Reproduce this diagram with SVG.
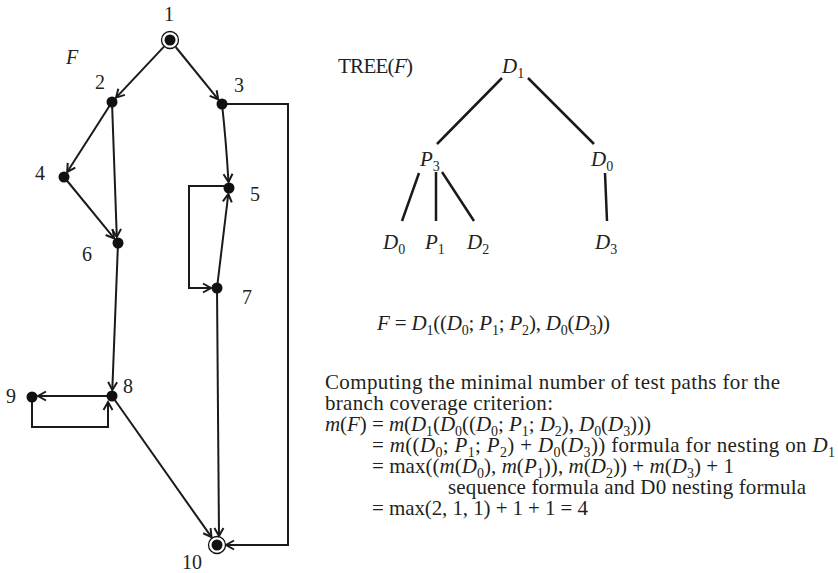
<svg xmlns="http://www.w3.org/2000/svg" width="838" height="573" viewBox="0 0 838 573">
<defs>
<style>
.t{font-family:"Liberation Serif","Times New Roman",serif;font-size:21px;fill:#231f20}
.n{font-family:"Liberation Serif","Times New Roman",serif;font-size:20px;fill:#231f20}
.i{font-style:italic}
.s{font-size:14px;font-style:normal;baseline-shift:-4.5px}
.e{fill:none;stroke:#1a1a1a;stroke-width:2}
.tl{fill:none;stroke:#1a1a1a;stroke-width:2.5}
.dot{fill:#111}
.ring{fill:#fff;stroke:#111;stroke-width:1.3}
</style>
<marker id="a" markerWidth="12" markerHeight="12" refX="9" refY="6" orient="auto" markerUnits="userSpaceOnUse">
<path d="M1,1.5 L9,6 L1,10.5" fill="none" stroke="#1a1a1a" stroke-width="2"/>
</marker>
</defs>
<rect width="838" height="573" fill="#fff"/>
<text class="n i" x="66" y="64">F</text>
<g id="edges">
<path class="e" d="M164,46.6 L116.1,97.6" marker-end="url(#a)"/>
<path class="e" d="M175.7,47 L218.2,99.3" marker-end="url(#a)"/>
<path class="e" d="M112,102 L67.2,172" marker-end="url(#a)"/>
<path class="e" d="M112,102 L116.8,237" marker-end="url(#a)"/>
<path class="e" d="M64,177 L114.2,238.4" marker-end="url(#a)"/>
<path class="e" d="M222,104 Q226,140 228.5,182" marker-end="url(#a)"/>
<path class="e" d="M222,104 H288 V545 H226" marker-end="url(#a)"/>
<path class="e" d="M229,186 H189 V288 H211" marker-end="url(#a)"/>
<path class="e" d="M217,288 L228.3,194" marker-end="url(#a)"/>
<path class="e" d="M118,243 L112.3,390" marker-end="url(#a)"/>
<path class="e" d="M217,288 L219,536" marker-end="url(#a)"/>
<path class="e" d="M112,396 H38" marker-end="url(#a)"/>
<path class="e" d="M32,397 V427 H108 V402" marker-end="url(#a)"/>
<path class="e" d="M112,396 L211.5,537.2" marker-end="url(#a)"/>
</g>
<g id="n1"><circle class="ring" cx="170" cy="40" r="8.5"/><circle class="dot" cx="170" cy="40" r="5.5"/><text class="n" x="164" y="21">1</text></g>
<g id="n2"><circle class="dot" cx="112" cy="102" r="5.5"/><text class="n" x="95" y="89">2</text></g>
<g id="n3"><circle class="dot" cx="222" cy="104" r="5.5"/><text class="n" x="234" y="92">3</text></g>
<g id="n4"><circle class="dot" cx="64" cy="177" r="5.5"/><text class="n" x="35" y="180">4</text></g>
<g id="n5"><circle class="dot" cx="229" cy="188" r="5.5"/><text class="n" x="250" y="201">5</text></g>
<g id="n6"><circle class="dot" cx="118" cy="243" r="5.5"/><text class="n" x="82" y="261">6</text></g>
<g id="n7"><circle class="dot" cx="217" cy="288" r="5.5"/><text class="n" x="242" y="304">7</text></g>
<g id="n8"><circle class="dot" cx="112" cy="396" r="5.5"/><text class="n" x="123" y="393">8</text></g>
<g id="n9"><circle class="dot" cx="32" cy="397" r="5.5"/><text class="n" x="6" y="403">9</text></g>
<g id="n10"><circle class="ring" cx="217" cy="545" r="8.5"/><circle class="dot" cx="217" cy="545" r="5.5"/><text class="n" x="182" y="569">10</text></g>
<g id="tree">
<text class="t" x="338" y="73" textLength="75">TREE(<tspan class="i">F</tspan>)</text>
<text class="t i" x="502" y="73">D<tspan class="s">1</tspan></text>
<path class="tl" d="M502,78 L437,144 M528,78 L594,144 M419,173 L402,221 M436,172 L436,221 M442,172 L474,221 M605,173 L607,221"/>
<text class="t i" x="420" y="166">P<tspan class="s">3</tspan></text>
<text class="t i" x="591" y="166">D<tspan class="s">0</tspan></text>
<text class="t i" x="383" y="249">D<tspan class="s">0</tspan></text>
<text class="t i" x="425" y="249">P<tspan class="s">1</tspan></text>
<text class="t i" x="467" y="249">D<tspan class="s">2</tspan></text>
<text class="t i" x="595" y="249">D<tspan class="s">3</tspan></text>
</g>
<g id="formulas">
<text class="t" x="377" y="330" textLength="233"><tspan class="i">F</tspan> = <tspan class="i">D</tspan><tspan class="s">1</tspan>((<tspan class="i">D</tspan><tspan class="s">0</tspan>; <tspan class="i">P</tspan><tspan class="s">1</tspan>; <tspan class="i">P</tspan><tspan class="s">2</tspan>), <tspan class="i">D</tspan><tspan class="s">0</tspan>(<tspan class="i">D</tspan><tspan class="s">3</tspan>))</text>
<text class="t" x="325" y="389" textLength="455">Computing the minimal number of test paths for the</text>
<text class="t" x="325" y="410" textLength="228">branch coverage criterion:</text>
<text class="t" x="325" y="431" textLength="326"><tspan class="i">m</tspan>(<tspan class="i">F</tspan>) = <tspan class="i">m</tspan>(<tspan class="i">D</tspan><tspan class="s">1</tspan>(<tspan class="i">D</tspan><tspan class="s">0</tspan>((<tspan class="i">D</tspan><tspan class="s">0</tspan>; <tspan class="i">P</tspan><tspan class="s">1</tspan>; <tspan class="i">D</tspan><tspan class="s">2</tspan>), <tspan class="i">D</tspan><tspan class="s">0</tspan>(<tspan class="i">D</tspan><tspan class="s">3</tspan>)))</text>
<text class="t" x="372" y="452" textLength="463">= <tspan class="i">m</tspan>((<tspan class="i">D</tspan><tspan class="s">0</tspan>; <tspan class="i">P</tspan><tspan class="s">1</tspan>; <tspan class="i">P</tspan><tspan class="s">2</tspan>) + <tspan class="i">D</tspan><tspan class="s">0</tspan>(<tspan class="i">D</tspan><tspan class="s">3</tspan>)) formula for nesting on <tspan class="i">D</tspan><tspan class="s">1</tspan></text>
<text class="t" x="372" y="473" textLength="362">= max((<tspan class="i">m</tspan>(<tspan class="i">D</tspan><tspan class="s">0</tspan>), <tspan class="i">m</tspan>(<tspan class="i">P</tspan><tspan class="s">1</tspan>)), <tspan class="i">m</tspan>(<tspan class="i">D</tspan><tspan class="s">2</tspan>)) + <tspan class="i">m</tspan>(<tspan class="i">D</tspan><tspan class="s">3</tspan>) + 1</text>
<text class="t" x="448" y="494" textLength="358">sequence formula and D0 nesting formula</text>
<text class="t" x="372" y="515" textLength="216">= max(2, 1, 1) + 1 + 1 = 4</text>
</g>
</svg>
